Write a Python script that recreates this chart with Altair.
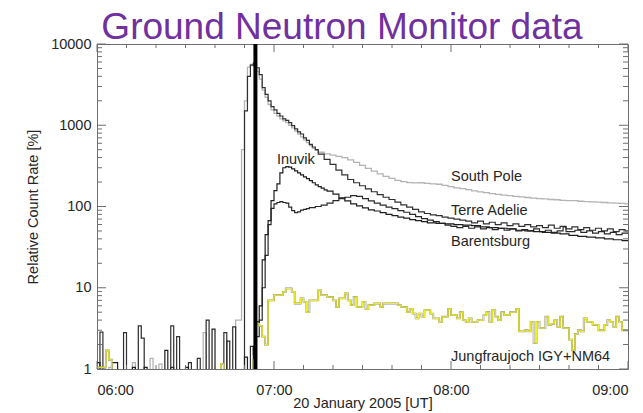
import altair as alt
import pandas as pd

TITLE = "Ground Neutron Monitor data"

# Step data: (minutes after 06:00 UT, relative count rate in %), each value holds until the next point.
south_pole = [
    (0, 0.5), (4, 1.05), (5, 0.5), (12, 1.2), (13, 0.5), (18, 1.35), (19, 0.5), (21, 1.15), (22, 0.5),
    (36, 2.8), (37, 0.5), (47, 4.0), (49, 500), (50, 2000), (51, 5200), (52, 5600), (53, 5300),
    (54, 4600), (55, 3700), (56, 2700), (57, 2200), (58, 1800), (59, 1550), (60, 1400), (61, 1300),
    (62, 1200), (63, 1130), (64, 1080), (65, 1000), (66, 930), (67, 850), (68, 780), (69, 720),
    (70, 660), (71, 610), (72, 560), (73, 520), (74, 490), (75, 465), (77, 445), (79, 430),
    (81, 415), (83, 400), (85, 375), (87, 350), (89, 320), (91, 295), (93, 272), (95, 252),
    (97, 235), (99, 222), (101, 210), (103, 202), (105, 197), (107, 195), (109, 196), (111, 193),
    (113, 190), (115, 188), (117, 182), (119, 176), (121, 170), (123, 166), (125, 161), (127, 156),
    (129, 151), (131, 148), (133, 144), (135, 141), (137, 138), (139, 136), (141, 133), (143, 131),
    (145, 129), (147, 127), (149, 125), (151, 124), (153, 122), (155, 121), (157, 119), (159, 118),
    (161, 118), (163, 116), (165, 115), (167, 114), (169, 113), (171, 112), (173, 111), (175, 110),
    (177, 109), (179, 108), (180, 108),
]

terre_adelie = [
    (0, 0.5), (1, 2.85), (2, 0.5), (9, 2.8), (10, 0.5), (25, 3.4), (26, 0.5), (27, 2.5), (28, 0.5),
    (31, 1.2), (32, 0.5), (34, 1.35), (35, 0.5), (43, 2.8), (44, 0.5), (46, 3.3), (47, 0.5),
    (50, 1500), (51, 4000), (52, 5500), (53, 5800), (54, 5100), (55, 4200), (56, 2900), (57, 2400),
    (58, 2000), (59, 1700), (60, 1550), (61, 1400), (62, 1300), (63, 1200), (64, 1150), (65, 1080),
    (66, 990), (67, 900), (68, 830), (69, 780), (70, 700), (71, 650), (72, 580), (73, 540),
    (74, 500), (75, 440), (77, 380), (79, 330), (81, 280), (83, 245), (85, 215), (87, 196),
    (89, 180), (91, 165), (93, 152), (95, 140), (97, 130), (99, 122), (101, 113), (103, 105),
    (105, 98), (107, 92), (109, 86), (111, 82), (113, 79), (115, 77), (117, 74), (119, 72),
    (121, 70), (123, 68), (125, 66), (127, 63), (129, 66), (131, 61), (133, 64), (135, 60),
    (137, 63), (139, 58), (141, 61), (143, 57), (145, 60), (147, 56), (149, 58), (151, 55),
    (153, 59), (155, 54), (157, 57), (159, 53), (161, 56), (163, 52), (165, 55), (167, 51),
    (169, 54), (171, 50), (173, 53), (175, 49), (177, 52), (179, 50), (180, 50),
]

inuvik = [
    (0, 1.2), (1, 0.5), (5, 1.2), (7, 0.5), (12, 1.05), (13, 0.5), (16, 1.05), (17, 0.5),
    (23, 1.7), (24, 0.5), (30, 1.05), (31, 0.5), (39, 3.1), (40, 0.5), (50, 1.4), (51, 0.5),
    (53, 1.9), (54, 3.8), (55, 6), (56, 22), (57, 45), (58, 67), (59, 118), (60, 157), (61, 190),
    (62, 260), (63, 300), (64, 310), (65, 305), (66, 290), (67, 275), (68, 260), (69, 245),
    (70, 232), (71, 220), (72, 208), (73, 196), (74, 185), (75, 176), (76, 168), (77, 160),
    (78, 155), (80, 142), (82, 128), (84, 117), (86, 108), (88, 102), (90, 96), (92, 91),
    (94, 88), (96, 84), (98, 80), (100, 77), (102, 74), (104, 72), (106, 69), (108, 67),
    (110, 65), (112, 63), (115, 62), (118, 61), (121, 60), (124, 59), (127, 58), (130, 56),
    (133, 55), (136, 54), (139, 53), (142, 51), (145, 50), (148, 49), (151, 48), (154, 47),
    (157, 46), (160, 44), (163, 43), (166, 42), (169, 41), (172, 40), (175, 39), (178, 38),
    (180, 38),
]

barentsburg = [
    (0, 0.5), (14, 3.4), (15, 2.4), (16, 0.5), (25, 1.05), (26, 0.5), (37, 4.0), (38, 0.5),
    (44, 2.2), (45, 0.5), (52, 1.9), (53, 1.5), (54, 2.5), (55, 4), (56, 10), (57, 25), (58, 60),
    (59, 95), (60, 108), (61, 112), (62, 115), (63, 112), (64, 110), (65, 98), (66, 89), (67, 84),
    (68, 86), (69, 90), (70, 92), (71, 94), (72, 97), (74, 100), (76, 104), (78, 110), (80, 118),
    (82, 125), (84, 130), (86, 136), (88, 133), (90, 125), (92, 117), (94, 110), (96, 104),
    (98, 98), (100, 94), (102, 89), (104, 85), (106, 80), (108, 75), (110, 71), (112, 68),
    (114, 65), (116, 62), (118, 59), (120, 57), (122, 55), (124, 57), (126, 54), (128, 56),
    (130, 53), (132, 55), (134, 52), (136, 54), (138, 51), (140, 53), (142, 50), (144, 52),
    (146, 50), (148, 53), (150, 49), (152, 51), (154, 48), (156, 50), (158, 56), (159, 49),
    (162, 51), (164, 48), (166, 50), (168, 47), (170, 49), (172, 46), (174, 48), (176, 45),
    (178, 47), (180, 46),
]

jungfraujoch = [
    (0, 1.05), (3, 1.7), (4, 1.3), (5, 0.8), (42, 1.15), (43, 0.8), (53, 1.3), (54, 3.6),
    (55, 3.4), (56, 2.5), (57, 2.0), (58, 7.0), (60, 8.1), (63, 8.9), (64, 9.8), (66, 8.9),
    (67, 6.4), (69, 7.4), (70, 6.7), (71, 5.0), (72, 7.0), (75, 9.3), (76, 8.1), (78, 7.7),
    (80, 7.0), (81, 5.8), (82, 7.4), (84, 8.5), (85, 7.0), (86, 6.1), (87, 7.7), (88, 5.8),
    (90, 6.7), (91, 5.5), (92, 6.1), (94, 6.4), (96, 5.8), (97, 6.4), (102, 6.1), (103, 5.8),
    (105, 5.0), (106, 5.5), (107, 4.8), (108, 4.2), (109, 4.8), (110, 4.4), (111, 5.3),
    (113, 4.8), (114, 4.2), (116, 3.8), (117, 4.4), (119, 5.5), (120, 4.6), (122, 4.2),
    (123, 5.0), (124, 4.0), (125, 3.8), (126, 4.2), (127, 3.8), (129, 4.0), (131, 4.6),
    (132, 5.0), (133, 3.8), (134, 5.3), (135, 4.4), (136, 4.0), (137, 5.0), (138, 4.6),
    (140, 5.0), (142, 5.5), (143, 2.9), (145, 3.0), (146, 2.9), (147, 3.8), (148, 2.1),
    (149, 3.8), (150, 3.2), (152, 4.4), (153, 3.5), (154, 3.6), (155, 4.0), (156, 3.3),
    (157, 4.4), (158, 3.2), (160, 2.3), (161, 1.7), (162, 2.7), (163, 3.0), (164, 2.9),
    (165, 4.2), (166, 3.8), (168, 3.5), (170, 3.0), (172, 3.5), (173, 4.0), (174, 3.8),
    (175, 3.3), (176, 4.4), (177, 3.8), (178, 3.0), (180, 3.0),
]

# Station labels: (text, minutes after 06:00, rate)
station_labels = [
    ("Inuvik", 61, 370),
    ("South Pole", 120, 234),
    ("Terre Adelie", 120, 89),
    ("Barentsburg", 120, 37),
    ("Jungfraujoch IGY+NM64", 120, 1.42),
]

# Flare onset marker (minutes after 06:00)
onset_minutes = [53.7]

hour_ticks = [0, 60, 120, 180]
minor_time_ticks = [10, 20, 30, 40, 50, 70, 80, 90, 100, 110, 130, 140, 150, 160, 170]
decade_ticks = [1, 10, 100, 1000, 10000]
minor_rate_ticks = [m * d for d in (1, 10, 100, 1000) for m in range(2, 10)]

W, H = 531, 325
AXIS_GRAY = "#6e6e6e"
TEXT = "#262626"
FONT = "Liberation Sans"


def stamp(minutes):
    s = int(round(minutes * 60))
    return f"2005-01-20T{6 + s // 3600:02d}:{(s % 3600) // 60:02d}:{s % 60:02d}Z"


def frame(pairs):
    return pd.DataFrame({"t": [stamp(m) for m, _ in pairs], "rate": [v for _, v in pairs]})


t0 = alt.DateTime(year=2005, month=1, date=20, hours=6, utc=True)
t1 = alt.DateTime(year=2005, month=1, date=20, hours=9, utc=True)
x_scale = alt.Scale(type="utc", domain=[t0, t1], nice=False)
y_scale = alt.Scale(type="log", domain=[1, 10000], nice=False)

# Every layer carries the same axis definition so the merged axes stay intact.
X = alt.X(
    "t:T", scale=x_scale,
    axis=alt.Axis(
        values=[alt.DateTime(year=2005, month=1, date=20, hours=6 + m // 60, utc=True) for m in hour_ticks],
        format="%H:%M", title="20 January 2005 [UT]", ticks=False, domain=False, grid=False,
        labelPadding=14, titlePadding=0,
    ),
)
Y = alt.Y(
    "rate:Q", scale=y_scale,
    axis=alt.Axis(
        values=decade_ticks, format="d", title="Relative Count Rate [%]", ticks=False,
        domain=False, grid=False, labelPadding=6, titlePadding=10,
    ),
)


def step_line(pairs, color, width):
    return alt.Chart(frame(pairs)).mark_line(
        interpolate="step-after", color=color, strokeWidth=width, clip=True
    ).encode(x=X, y=Y)


layers = [
    step_line(south_pole, "#b4b4b4", 1.3),
    step_line(terre_adelie, "#303030", 1.2),
    step_line(barentsburg, "#2a2a2a", 1.2),
    step_line(inuvik, "#1e1e1e", 1.2),
    step_line(jungfraujoch, "#8c8c8c", 1.8),
    step_line(jungfraujoch, "#f0f01e", 1.1),
]

onset = alt.Chart(pd.DataFrame({"t": [stamp(m) for m in onset_minutes]})).mark_rule(
    color="black", strokeWidth=4
).encode(x=X)

labels = alt.Chart(pd.DataFrame({
    "label": [s[0] for s in station_labels],
    "t": [stamp(s[1]) for s in station_labels],
    "rate": [s[2] for s in station_labels],
})).mark_text(align="left", baseline="middle", font=FONT, fontSize=14.5, color=TEXT).encode(
    x=X, y=Y, text="label:N"
)

# Slide heading above the plot frame
heading = alt.Chart(pd.DataFrame({"heading": [TITLE]})).mark_text(
    align="center", baseline="alphabetic", font=FONT, fontSize=37, color="#7030A0"
).encode(text="heading:N", x=alt.value(245), y=alt.value(-5))


def time_ticks(minutes, size):
    data = pd.DataFrame({"t": [stamp(m) for m in minutes]})
    bottom = alt.Chart(data).mark_rule(color=AXIS_GRAY).encode(
        x=X, y=alt.value(H), y2=alt.value(H - size))
    top = alt.Chart(data).mark_rule(color=AXIS_GRAY).encode(
        x=X, y=alt.value(0), y2=alt.value(size))
    return [bottom, top]


def rate_ticks(values, size):
    data = pd.DataFrame({"rate": values})
    left = alt.Chart(data).mark_rule(color=AXIS_GRAY).encode(
        y=Y, x=alt.value(0), x2=alt.value(size))
    right = alt.Chart(data).mark_rule(color=AXIS_GRAY).encode(
        y=Y, x=alt.value(W), x2=alt.value(W - size))
    return [left, right]


ticks = (time_ticks(hour_ticks, 8) + time_ticks(minor_time_ticks, 4)
         + rate_ticks(decade_ticks, 9) + rate_ticks(minor_rate_ticks, 5))

chart = alt.layer(*layers, onset, labels, *ticks, heading).properties(
    width=W, height=H,
    autosize=alt.AutoSizeParams(type="none"),
    padding={"left": 97, "top": 44, "right": 15, "bottom": 44},
).configure_view(stroke=AXIS_GRAY, strokeWidth=1).configure_axis(
    labelFont=FONT, labelFontSize=14.5, labelColor=TEXT,
    titleFont=FONT, titleFontSize=14.5, titleColor=TEXT, titleFontWeight="normal",
)

chart.save("out.html", embed_options={"renderer": "svg", "actions": False})
